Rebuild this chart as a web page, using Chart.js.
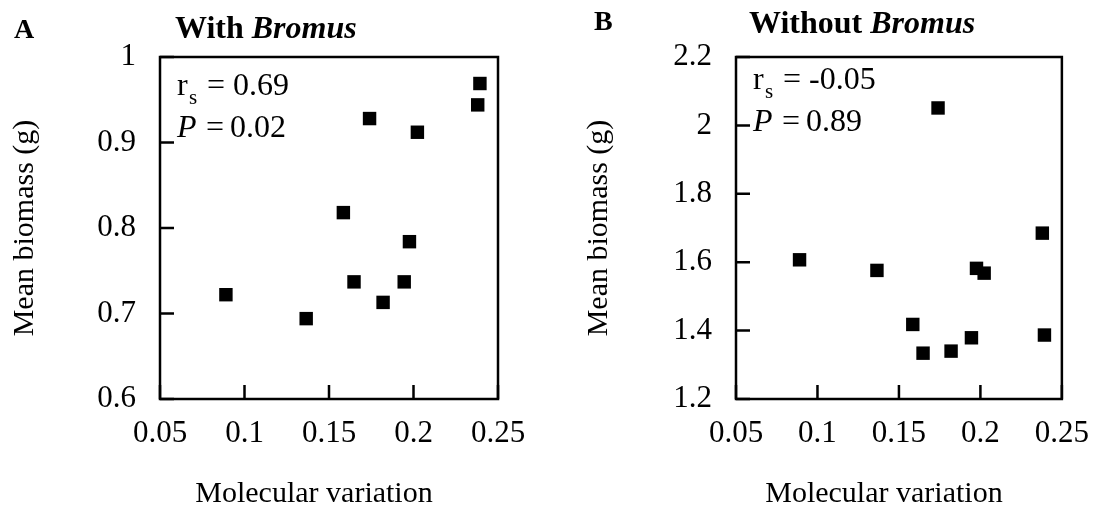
<!DOCTYPE html>
<html>
<head>
<meta charset="utf-8">
<script src="https://cdn.jsdelivr.net/npm/chart.js@4.4.0/dist/chart.umd.min.js"></script>
<style>
  body { margin: 0; background: #fff; }
  #wrap { position: relative; width: 1105px; height: 510px; }
  canvas { position: absolute; top: 0; }
</style>
</head>
<body>
<div id="wrap">
  <canvas id="withBromus" width="552" height="510" style="left:0"></canvas>
  <canvas id="withoutBromus" width="553" height="510" style="left:552px"></canvas>
</div>
<script>
// Molecular variation of each population (x), mean biomass (y)
const molecularVariation = [0.089, 0.1365, 0.1585, 0.1648, 0.174, 0.182, 0.1945, 0.1976, 0.2023, 0.238, 0.2393];
const biomassWith = [0.722, 0.694, 0.818, 0.737, 0.928, 0.713, 0.737, 0.784, 0.912, 0.944, 0.969];
const biomassWithout = [1.607, 1.576, 1.418, 1.334, 2.051, 1.340, 1.379, 1.582, 1.568, 1.685, 1.387];

const xTicks = [0.05, 0.1, 0.15, 0.2, 0.25];
const yTicksWith = [0.6, 0.7, 0.8, 0.9, 1];
const yTicksWithout = [1.2, 1.4, 1.6, 1.8, 2, 2.2];

const serif = "'Liberation Serif', 'DejaVu Serif', serif";
Chart.defaults.font.family = serif;
Chart.defaults.color = '#000';

// box around the plot, inward tick marks, panel letter, titles and stats
const framePlugin = {
  id: 'frame',
  beforeDatasetsDraw(chart) {
    const { ctx, chartArea: a, scales } = chart;
    ctx.save();
    ctx.strokeStyle = '#000';
    ctx.lineWidth = 2.5;
    ctx.strokeRect(a.left, a.top, a.right - a.left, a.bottom - a.top);
    ctx.beginPath();
    scales.x.ticks.forEach(t => {
      const px = scales.x.getPixelForValue(t.value);
      ctx.moveTo(px, a.bottom);
      ctx.lineTo(px, a.bottom - 14);
    });
    scales.y.ticks.forEach(t => {
      const py = scales.y.getPixelForValue(t.value);
      ctx.moveTo(a.left, py);
      ctx.lineTo(a.left + 14, py);
    });
    ctx.stroke();
    ctx.restore();
  },
  afterDraw(chart, args, o) {
    const { ctx, chartArea: a } = chart;
    ctx.save();
    ctx.fillStyle = '#000';
    ctx.textBaseline = 'alphabetic';

    // x axis title sits a little left of the plot centre
    ctx.textAlign = 'center';
    ctx.font = '30px ' + serif;
    ctx.fillText('Molecular variation', (a.left + a.right) / 2 - 15, 502);

    ctx.textAlign = 'left';
    ctx.font = 'bold 28px ' + serif;
    ctx.fillText(o.letter, o.letterX, o.letterY);

    ctx.font = 'bold 32px ' + serif;
    ctx.fillText(o.title, o.titleX, o.titleY);
    const w = ctx.measureText(o.title).width;
    ctx.font = 'italic bold 32px ' + serif;
    ctx.fillText(o.titleItalic, o.titleX + w, o.titleY);

    const x0 = o.statX;
    ctx.font = '32px ' + serif;
    ctx.fillText('r', x0, o.statY);
    ctx.font = '21px ' + serif;
    ctx.fillText('s', x0 + 12, o.statY + 9);
    ctx.font = '32px ' + serif;
    ctx.fillText('=', x0 + 30, o.statY);
    ctx.fillText(o.rs, x0 + 56, o.statY);

    ctx.font = 'italic 32px ' + serif;
    ctx.fillText('P', x0, o.statY + 42);
    ctx.font = '32px ' + serif;
    ctx.fillText('=', x0 + 29, o.statY + 42);
    ctx.fillText(o.p, x0 + 53, o.statY + 42);
    ctx.restore();
  }
};

function makePanel(id, yValues, yTicks, plotLeft, padRight, yTitlePad, text) {
  new Chart(document.getElementById(id), {
    type: 'scatter',
    data: {
      datasets: [{
        data: molecularVariation.map((x, i) => ({ x: x, y: yValues[i] })),
        pointStyle: 'rect',
        pointRadius: 9.5,
        pointHoverRadius: 9.5,
        borderWidth: 0,
        backgroundColor: '#000',
        borderColor: '#000'
      }]
    },
    options: {
      responsive: false,
      animation: false,
      events: [],
      layout: { padding: { left: 0, top: 57, right: padRight, bottom: 0 } },
      plugins: {
        legend: { display: false },
        tooltip: { enabled: false },
        frame: text
      },
      scales: {
        x: {
          type: 'linear',
          min: xTicks[0],
          max: xTicks[xTicks.length - 1],
          afterBuildTicks: s => { s.ticks = xTicks.map(v => ({ value: v })); },
          afterFit: s => { s.height = 111; },
          grid: { display: false, drawTicks: false },
          border: { display: false },
          ticks: { font: { size: 31 }, padding: 16, maxRotation: 0, callback: v => String(v) }
        },
        y: {
          type: 'linear',
          min: yTicks[0],
          max: yTicks[yTicks.length - 1],
          afterBuildTicks: s => { s.ticks = yTicks.map(v => ({ value: v })); },
          afterFit: s => { s.width = plotLeft; },
          grid: { display: false, drawTicks: false },
          border: { display: false },
          ticks: { font: { size: 31 }, padding: 24, callback: v => String(v) },
          title: { display: true, text: 'Mean biomass (g)', font: { size: 30 }, padding: { top: yTitlePad, bottom: 0 } }
        }
      }
    },
    plugins: [framePlugin]
  });
}

makePanel('withBromus', biomassWith, yTicksWith, 160, 54, 7, {
  letter: 'A', letterX: 14, letterY: 38,
  title: 'With ', titleItalic: 'Bromus', titleX: 175, titleY: 38,
  rs: '0.69', p: '0.02', statX: 177, statY: 95
});

makePanel('withoutBromus', biomassWithout, yTicksWithout, 184, 30, 29, {
  letter: 'B', letterX: 42, letterY: 30,
  title: 'Without ', titleItalic: 'Bromus', titleX: 197, titleY: 33,
  rs: '-0.05', p: '0.89', statX: 201, statY: 89
});
</script>
</body>
</html>
